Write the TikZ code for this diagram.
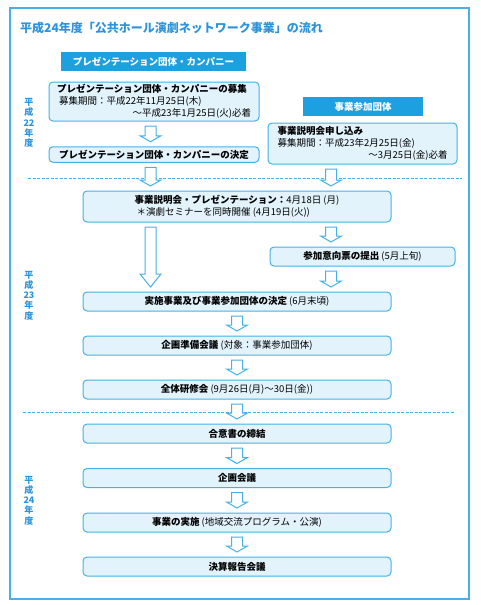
\documentclass[tikz,border=0pt]{standalone}
\usepackage{fontspec}
\setmainfont{Noto Sans CJK JP}
\usepackage{xcolor}
\usepackage{tikz}
\usetikzlibrary{calc}
\definecolor{lineblue}{HTML}{45B1E8}
\definecolor{boxblue}{HTML}{E2F3FC}
\definecolor{headblue}{HTML}{1DA0E0}
\definecolor{titleblue}{HTML}{2C94DA}
\tikzset{
  stage/.style={rectangle,draw=lineblue,fill=boxblue,rounded corners=4pt,line width=1pt,
    inner sep=2pt,minimum height=19pt,font=\fontsize{9.5}{12}\selectfont},
  wide/.style={stage,minimum width=308pt},
  header/.style={rectangle,fill=headblue,text=white,inner sep=2pt,minimum height=19pt,
    font=\bfseries\fontsize{9.5}{12}\selectfont},
  yearlabel/.style={text=titleblue,align=center,inner sep=0pt,
    font=\bfseries\fontsize{9}{10.3}\selectfont},
  period/.style={draw=lineblue,line width=0.8pt,dash pattern=on 3pt off 1.5pt},
  hollow/.style={draw=lineblue,fill=white,line width=1pt,line join=miter}
}
% hollow block arrow: [head length]{top}{bottom}
\newcommand\flowarrow[3][6]{%
  \draw[hollow] let \p1=(#2), \p2=(#3) in
    (\x1-5.5pt,\y1-4.5pt) -- (\x1-5.5pt,\y2+4.5pt+#1pt) -- (\x1-10.5pt,\y2+4.5pt+#1pt)
    -- (\x1,\y2+4.5pt) -- (\x1+10.5pt,\y2+4.5pt+#1pt) -- (\x1+5.5pt,\y2+4.5pt+#1pt)
    -- (\x1+5.5pt,\y1-4.5pt) -- cycle;}

\begin{document}
\begin{tikzpicture}[x=1pt,y=-1pt]
    \useasboundingbox (0,0) rectangle (480,605);
    \draw[lineblue,line width=1.2pt] (10,8) rectangle (469,599);
    \node[anchor=west,inner sep=0pt,text=titleblue,font=\bfseries\fontsize{12}{14}\selectfont] (title) at (20,27.5)
        {平成24年度「公共ホール演劇ネットワーク事業」の流れ};

    % 年度
    \node[yearlabel] (y22) at (29,123) {平\\成\\22\\年\\度};
    \node[yearlabel] (y23) at (29,295.5) {平\\成\\23\\年\\度};
    \node[yearlabel] (y24) at (29,500.5) {平\\成\\24\\年\\度};
    \draw[period] (28,178) -- (462,178);
    \draw[period] (23,412) -- (455,412);

    % 列
    \coordinate (lcol) at (150.5,0);
    \coordinate (rcol) at (331,0);

    % 平成22年度
    \node[header,minimum width=185pt] (h1) at (153.5,61.5) {プレゼンテーション団体・カンパニー};
    \node[header,minimum width=120pt] (h2) at (363,106.5) {事業参加団体};
    \node[stage,minimum width=210pt,minimum height=39pt,text width=194pt,inner xsep=8pt,align=left] (p1) at (154,101.5)
        {\textbf{プレゼンテーション団体・カンパニーの募集}\\
         \hspace*{2pt}募集期間：平成22年11月25日(木)\\
         \hspace*{\fill}～平成23年1月25日(火)必着};
    \node[stage,minimum width=210pt,minimum height=15.5pt] (p2) at (154,154.5)
        {\textbf{プレゼンテーション団体・カンパニーの決定}};
    \node[stage,minimum width=189pt,minimum height=41pt,text width=170pt,inner xsep=9.5pt,align=left] (p3) at (362.5,143.5)
        {\textbf{事業説明会申し込み}\\
         募集期間：平成23年2月25日(金)\\
         \hspace*{\fill}～3月25日(金)必着};

    % 平成23年度
    \node[wide,minimum height=31pt,align=left] (p4) at (237,206.5)
        {\textbf{事業説明会・プレゼンテーション：}4月18日 (月)\\
         \hspace*{2pt}＊演劇セミナーを同時開催 (4月19日(火))};
    \node[stage,minimum width=185pt] (p5) at (362.5,256.5) {\textbf{参加意向票の提出} (5月上旬)};
    \node[wide] (p6) at (237,301.5) {\textbf{実施事業及び事業参加団体の決定} (6月末頃)};
    \node[wide] (p7) at (237,345.5) {\textbf{企画準備会議} (対象：事業参加団体)};
    \node[wide] (p8) at (237,389.5) {\textbf{全体研修会} (9月26日(月)～30日(金))};

    % 平成24年度
    \foreach \y/\id/\txt in {433.5/9/\textbf{合意書の締結},478/10/\textbf{企画会議},
        522.5/11/\textbf{事業の実施} (地域交流プログラム・公演),566.5/12/\textbf{決算報告会議}}
        \node[wide] (p\id) at (237,\y) {\txt};

    % 矢印
    \flowarrow{p1.south -| lcol}{p2.north -| lcol}
    \flowarrow{p2.south -| lcol}{p4.north -| lcol}
    \flowarrow{p3.south -| rcol}{p4.north -| rcol}
    \flowarrow[13]{p4.south -| lcol}{p6.north -| lcol}
    \flowarrow{p4.south -| rcol}{p5.north -| rcol}
    \flowarrow{p5.south -| rcol}{p6.north -| rcol}
    \foreach \a/\b in {6/7,7/8,8/9,9/10,10/11,11/12}{
        \flowarrow{p\a.south}{p\b.north}
    }
\end{tikzpicture}
\end{document}
